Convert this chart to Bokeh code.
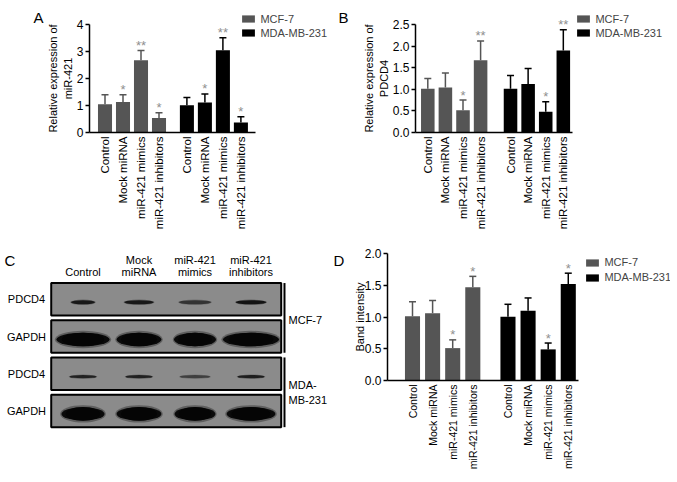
import numpy as np
from bokeh.plotting import figure
from bokeh.models import (Range1d, FixedTicker, Legend, LegendItem, Label,
                          Whisker, TeeHead, ColumnDataSource, LinearAxis)
from bokeh.embed import file_html
from bokeh.resources import INLINE
from bokeh.core.properties import value

FONT = "Liberation Sans"
GRAY = "#555555"
BLACK = "#000000"
STAR = "#8f8f8f"

# ---------------- data ----------------
groups = ["Control", "Mock miRNA", "miR-421 mimics", "miR-421 inhibitors"]
cell_lines = ["MCF-7", "MDA-MB-231"]

# Panel A: relative expression of miR-421
a_mcf7 = [1.05, 1.13, 2.68, 0.54]
a_mcf7_err = [0.35, 0.27, 0.36, 0.19]
a_mcf7_sig = ["", "*", "**", "*"]
a_mda = [1.01, 1.11, 3.05, 0.37]
a_mda_err = [0.29, 0.32, 0.46, 0.21]
a_mda_sig = ["", "*", "**", "*"]
a_yticks = [0, 1, 2, 3, 4]
a_ylabels = ["0", "1", "2", "3", "4"]

# Panel B: relative expression of PDCD4
b_mcf7 = [1.015, 1.04, 0.515, 1.67]
b_mcf7_err = [0.235, 0.34, 0.235, 0.45]
b_mcf7_sig = ["", "", "*", "**"]
b_mda = [1.015, 1.12, 0.48, 1.90]
b_mda_err = [0.305, 0.36, 0.23, 0.48]
b_mda_sig = ["", "", "*", "**"]
b_yticks = [0, 0.5, 1.0, 1.5, 2.0, 2.5]
b_ylabels = ["0.0", "0.5", "1.0", "1.5", "2.0", "2.5"]

# Panel D: band intensity
d_mcf7 = [1.01, 1.06, 0.51, 1.47]
d_mcf7_err = [0.23, 0.20, 0.13, 0.17]
d_mcf7_sig = ["", "", "*", "*"]
d_mda = [1.005, 1.10, 0.49, 1.52]
d_mda_err = [0.195, 0.20, 0.10, 0.17]
d_mda_sig = ["", "", "*", "*"]
d_yticks = [0, 0.5, 1.0, 1.5, 2.0]
d_ylabels = ["0.0", "0.5", "1.0", "1.5", "2.0"]

# Panel C: western blot
lanes = ["Control", "Mock\nmiRNA", "miR-421\nmimics", "miR-421\ninhibitors"]
blot_rows = ["PDCD4", "GAPDH", "PDCD4", "GAPDH"]
blot_cells = ["MCF-7", "MDA-\nMB-231"]
band_width = [  # relative band width per lane
    [0.43, 0.52, 0.57, 0.54],
    [0.95, 0.80, 0.75, 1.00],
    [0.48, 0.48, 0.54, 0.48],
    [0.77, 0.80, 0.73, 0.87],
]
band_strength = [
    [0.85, 0.85, 0.60, 0.90],
    [1.00, 1.00, 1.00, 1.00],
    [0.75, 0.75, 0.50, 0.80],
    [1.00, 1.00, 1.00, 1.00],
]
band_thickness = [0.11, 0.36, 0.09, 0.36]

# ---------------- single canvas ----------------
W, H = 670, 476
p = figure(width=W, height=H, x_range=Range1d(0, W), y_range=Range1d(H, 0),
           x_axis_location=None, y_axis_location=None, title=None,
           min_border_left=0, min_border_right=0, min_border_top=0,
           min_border_bottom=0, output_backend="svg", toolbar_location=None)
p.grid.visible = False
p.outline_line_color = None
p.background_fill_color = "white"


def lin_range(d0, p0, d1, p1, total, vertical):
    """Range whose value d0 sits at pixel p0 and d1 at pixel p1 (pixels from left/top)."""
    if not vertical:
        k = (d1 - d0) / (p1 - p0)
        return Range1d(d0 - p0 * k, d0 + (total - p0) * k)
    k = (d1 - d0) / (p0 - p1)
    return Range1d(d0 - (total - p0) * k, d0 + p0 * k)


def text_kw(size, color="black", **extra):
    d = dict(text_font=value(FONT), text_font_size=size, text_color=color)
    d.update(extra)
    return d


def bar_panel(name, letter, letter_px, bar0_px, pitch, frame, ymax, yticks, ylabels,
              ylabel, g2, bar_w, v1, e1, s1, v2, e2, s2, legend_box, legend_pitch,
              xlab_size, ytick_size, ylab_standoff):
    left, top, right, bottom = frame
    xn, yn = name + "x", name + "y"
    p.extra_x_ranges[xn] = lin_range(0, bar0_px, 1, bar0_px + pitch, W, False)
    p.extra_y_ranges[yn] = lin_range(0, bottom, ymax, top, H, True)
    xb = ((left - bar0_px) / pitch, (right - bar0_px) / pitch)
    kw = dict(x_range_name=xn, y_range_name=yn)

    xs1 = [float(i) for i in range(len(groups))]
    xs2 = [round(g2 + i, 4) for i in range(len(groups))]
    r1 = p.vbar(x=xs1, top=v1, bottom=0, width=bar_w, fill_color=GRAY,
                line_color=None, **kw)
    r2 = p.vbar(x=xs2, top=v2, bottom=0, width=bar_w, fill_color=BLACK,
                line_color=None, **kw)
    for xs, v, e, s, c in ((xs1, v1, e1, s1, GRAY), (xs2, v2, e2, s2, BLACK)):
        up = [a + b for a, b in zip(v, e)]
        src = ColumnDataSource(dict(base=xs, lower=v, upper=up))
        p.add_layout(Whisker(source=src, base="base", lower="lower", upper="upper",
                             dimension="height", line_color=c, line_width=1.5,
                             lower_head=None,
                             upper_head=TeeHead(size=7, line_color=c, line_width=1.5),
                             **kw))
        p.text(x=xs, y=up, text=s, text_align="center", text_baseline="alphabetic",
               y_offset=-5, **text_kw("13px", STAR), **kw)

    xa = LinearAxis(fixed_location=0, bounds=xb, **kw)
    xa.ticker = FixedTicker(ticks=xs1 + xs2)
    xa.major_label_overrides = {x: lab for x, lab in zip(xs1 + xs2, groups * 2)}
    xa.major_label_orientation = np.pi / 2
    xa.major_tick_line_color = None
    xa.major_tick_out = 0
    xa.major_tick_in = 0
    xa.minor_tick_line_color = None
    xa.axis_line_width = 1.5
    xa.major_label_standoff = 4
    xa.major_label_text_font = FONT
    xa.major_label_text_font_size = xlab_size
    xa.major_label_text_color = "black"
    p.add_layout(xa, "below")

    ya = LinearAxis(fixed_location=xb[0], bounds=(0, ymax), **kw)
    ya.ticker = FixedTicker(ticks=yticks)
    ya.major_label_overrides = {t: lab for t, lab in zip(yticks, ylabels)}
    ya.major_tick_out = 4
    ya.major_tick_in = 0
    ya.major_tick_line_width = 1.5
    ya.minor_tick_line_color = None
    ya.axis_line_width = 1.5
    ya.major_label_standoff = 2
    ya.major_label_text_font = FONT
    ya.major_label_text_font_size = ytick_size
    ya.major_label_text_color = "black"
    ya.axis_label = ylabel
    ya.axis_label_text_font = FONT
    ya.axis_label_text_font_style = "normal"
    ya.axis_label_text_font_size = "11px"
    ya.axis_label_text_color = "black"
    ya.axis_label_standoff = ylab_standoff
    p.add_layout(ya, "left")

    # legend (screen placement)
    bx, by = legend_box
    gw, gh = 16, 9
    item_h = 12.3
    spacing = legend_pitch - item_h
    LH = 2 * item_h + spacing
    x0 = bx - 0.1 * gw
    y0 = by - 0.1 * gh
    legend = Legend(items=[LegendItem(label=cell_lines[0], renderers=[r1]),
                           LegendItem(label=cell_lines[1], renderers=[r2])],
                    location=(x0, H - (y0 + LH)),
                    glyph_width=gw, glyph_height=gh, label_height=9,
                    spacing=int(round(spacing)), padding=0, margin=0,
                    label_standoff=4, border_line_color=None,
                    background_fill_alpha=0, label_text_font=FONT,
                    label_text_font_size="11px")
    p.add_layout(legend)

    p.add_layout(Label(x=letter_px[0], y=letter_px[1], text=letter, text_font=FONT,
                       text_font_size="15px", text_baseline="alphabetic",
                       text_color="black"))


bar_panel("a", "A", (33, 17), 104.5, 18.0, (89, 24, 255, 132), 4, a_yticks, a_ylabels,
          "Relative expression of\nmiR-421", 4.55, 0.78,
          a_mcf7, a_mcf7_err, a_mcf7_sig, a_mda, a_mda_err, a_mda_sig,
          (242, 13.3), 14, "11.5px", "12px", 0)

bar_panel("b", "B", (338, 17), 427.3, 17.6, (415, 24, 572, 132), 2.5, b_yticks, b_ylabels,
          "Relative expression of\nPDCD4", 4.70, 0.77,
          b_mcf7, b_mcf7_err, b_mcf7_sig, b_mda, b_mda_err, b_mda_sig,
          (577, 13.3), 14, "11.5px", "12px", 0)

bar_panel("d", "D", (333, 260), 412.0, 20.1, (387, 253, 578, 380), 2.0, d_yticks, d_ylabels,
          "Band intensity", 4.75, 0.75,
          d_mcf7, d_mcf7_err, d_mcf7_sig, d_mda, d_mda_err, d_mda_sig,
          (586, 256.7), 15, "10.5px", "12px", -4)

# ---------------- Panel C: western blot ----------------
p.extra_x_ranges["cx"] = lin_range(0, 82.5, 1, 138.5, W, False)
p.extra_y_ranges["cy"] = lin_range(0, 298.8, -1, 261.6, H, True)
ckw = dict(x_range_name="cx", y_range_name="cy")

n_l = len(lanes)
rows_idx = list(range(len(blot_rows)))
strip_h = 0.874
p.rect(x=[(n_l - 1) / 2 - 0.014] * len(rows_idx), y=rows_idx, width=n_l + 0.107,
       height=strip_h, fill_color="#8b8b8b", line_color="black", line_width=2, **ckw)

for j in rows_idx:
    xs = list(range(n_l))
    ys = [j + 0.08] * n_l
    w = band_width[j]
    a = band_strength[j]
    t = band_thickness[j]
    # soft edge
    p.ellipse(x=xs, y=ys, width=[v * 1.06 for v in w], height=t * 1.3,
              fill_color="#2a2a2a", fill_alpha=[v * 0.45 for v in a],
              line_color=None, **ckw)
    # core
    p.ellipse(x=xs, y=ys, width=w, height=t, fill_color="#0a0a0a", fill_alpha=a,
              line_color=None, **ckw)
    if t > 0.2:  # broad loading-control bands have flatter sides
        p.ellipse(x=xs, y=ys, width=[v * 0.8 for v in w], height=t * 1.02,
                  fill_color="#050505", line_color=None, **ckw)

p.text(x=[-1.009] * len(blot_rows), y=rows_idx, text=blot_rows,
       text_align="center", text_baseline="middle", **text_kw("11px"), **ckw)
p.text(x=list(range(n_l)), y=[-0.56] * n_l, text=lanes, text_align="center",
       text_baseline="bottom", text_line_height=1.05, **text_kw("11px"), **ckw)
bxl = 3.598
p.segment(x0=[bxl, bxl], y0=[0 - strip_h / 2, 2 - strip_h / 2],
          x1=[bxl, bxl], y1=[1 + strip_h / 2, 3 + strip_h / 2],
          line_color="black", line_width=2, **ckw)
p.text(x=[3.67, 3.67], y=[0.55, 2.5], text=blot_cells, text_align="left",
       text_baseline="middle", text_line_height=1.25, **text_kw("11px"), **ckw)
p.add_layout(Label(x=4, y=260, text="C", text_font=FONT, text_font_size="15px",
                   text_baseline="alphabetic", text_color="black"))

open("out.html", "w").write(file_html(p, INLINE))
